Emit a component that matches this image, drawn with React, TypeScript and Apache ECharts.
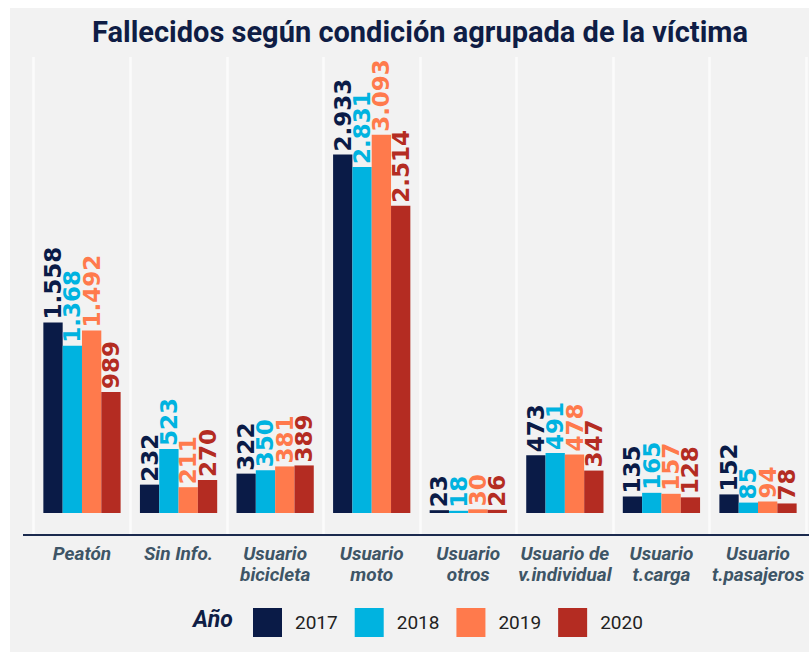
import React, { useEffect, useRef } from "react";
import * as echarts from "echarts";

const categories = [
  "Peatón",
  "Sin Info.",
  "Usuario\nbicicleta",
  "Usuario\nmoto",
  "Usuario\notros",
  "Usuario de\nv.individual",
  "Usuario\nt.carga",
  "Usuario\nt.pasajeros",
];
const years = ["2017", "2018", "2019", "2020"];
const v2017 = [1558, 232, 322, 2933, 23, 473, 135, 152];
const v2018 = [1368, 523, 350, 2831, 18, 491, 165, 85];
const v2019 = [1492, 211, 381, 3093, 30, 478, 157, 94];
const v2020 = [989, 270, 389, 2514, 26, 347, 128, 78];
const colors = ["#0a1b47", "#00b3e0", "#ff7a4c", "#b42c22"];

const fmt = (v: number) => String(v).replace(/\B(?=(\d{3})+(?!\d))/g, ".");

export default function App() {
  const ref = useRef<HTMLDivElement>(null);
  useEffect(() => {
    if (!ref.current) return;
    const chart = echarts.init(ref.current, null, { renderer: "svg" });
    const seriesData = [v2017, v2018, v2019, v2020];
    chart.setOption({
      animation: false,
      backgroundColor: "#f2f2f2",
      title: {
        text: "Fallecidos según condición agrupada de la víctima",
        left: 405,
        textAlign: "center",
        top: 4,
        textStyle: {
          fontFamily: "Roboto",
          fontWeight: "bold",
          fontSize: 29,
          color: "#0f1d45",
        },
      },
      legend: {
        data: years,
        left: 243,
        top: 600,
        padding: 0,
        itemWidth: 29,
        itemHeight: 29,
        itemGap: 17,
        icon: "rect",
        textStyle: {
          fontFamily: "Roboto",
          fontSize: 19,
          color: "#222",
          padding: [0, 0, 0, 8],
        },
      },
      grid: { left: 23.7, right: 2.7, top: 49, bottom: 117 },
      xAxis: {
        type: "category",
        data: categories,
        axisLine: { onZero: false, lineStyle: { color: "#1b2a4e", width: 2 } },
        axisTick: {
          alignWithLabel: true,
          length: 4,
          lineStyle: { color: "#1b2a4e", width: 2 },
        },
        splitLine: { show: true, lineStyle: { color: "#fbfbfb", width: 2.5 } },
        axisLabel: {
          interval: 0,
          margin: 8,
          fontFamily: "Roboto",
          fontStyle: "italic",
          fontWeight: "bold",
          fontSize: 19,
          lineHeight: 21,
          color: "#3e5566",
        },
      },
      yAxis: {
        type: "value",
        min: -180,
        max: 3730,
        show: false,
        splitLine: { show: false },
      },
      series: years.map((y, i) => ({
        name: y,
        type: "bar",
        data: seriesData[i],
        barGap: "0%",
        barCategoryGap: "20%",
        itemStyle: { color: colors[i] },
        label: {
          show: true,
          position: "top",
          rotate: 90,
          align: "left",
          verticalAlign: "middle",
          distance: 3,
          formatter: (p: any) => fmt(p.value),
          fontFamily: "DejaVu Sans",
          fontWeight: "bold",
          fontSize: 23,
          color: colors[i],
        },
      })),
      graphic: [
        {
          type: "line",
          z: 100,
          shape: { x1: 13, y1: 527, x2: 799, y2: 527 },
          style: { stroke: "#1b2a4e", lineWidth: 2 },
        },
        {
          type: "text",
          left: 183,
          top: 600,
          style: {
            text: "Año",
            fontFamily: "Roboto",
            fontStyle: "italic",
            fontWeight: "bold",
            fontSize: 23,
            fill: "#0f1d45",
          },
        },
      ],
    });
    return () => chart.dispose();
  }, []);
  return (
    <div
      ref={ref}
      style={{ position: "absolute", left: 10, top: 8, width: 799, height: 644 }}
    />
  );
}
